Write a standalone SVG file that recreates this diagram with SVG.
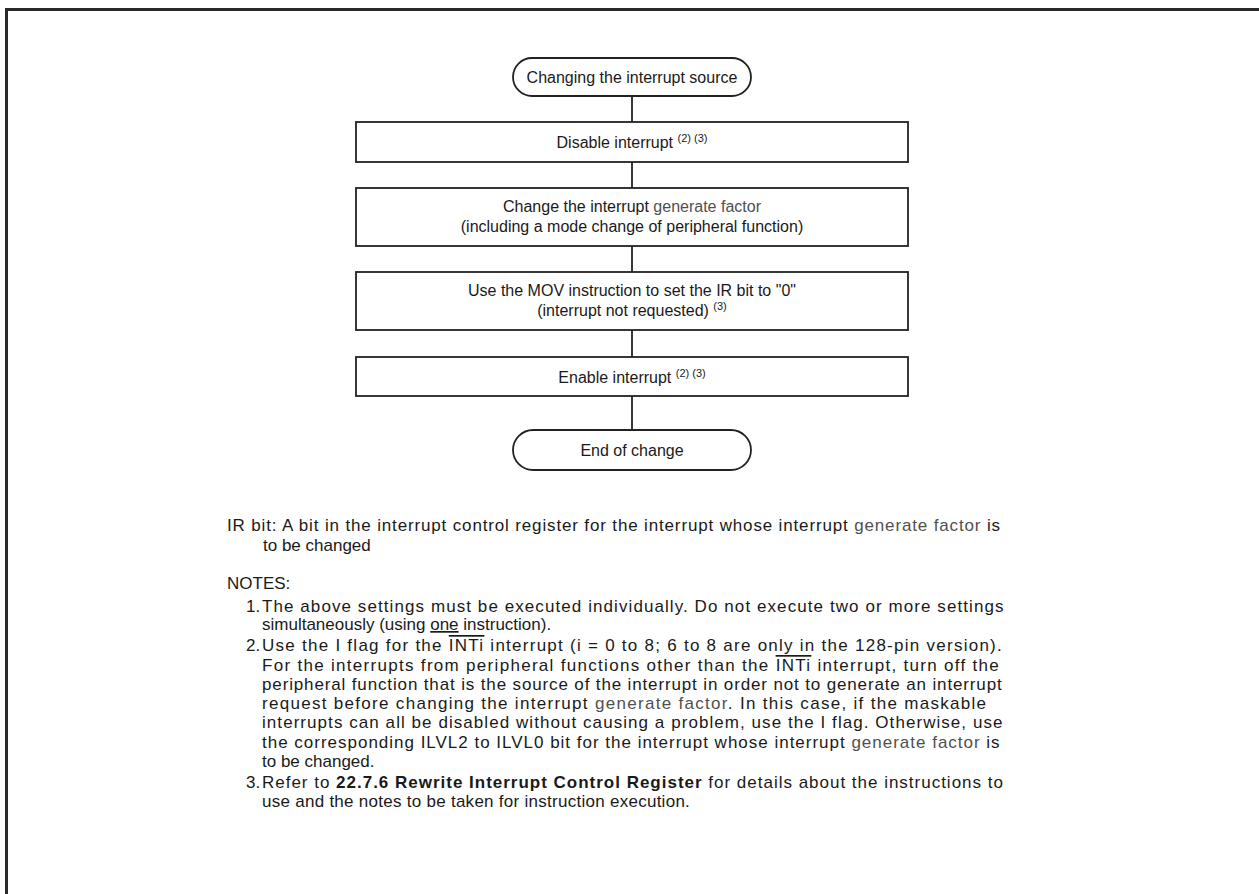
<svg xmlns="http://www.w3.org/2000/svg" width="1259" height="894" viewBox="0 0 1259 894">
<style>
.box{fill:#fff;stroke:#222;stroke-width:1.8}
.ln{stroke:#222;stroke-width:1.8;fill:none}
.t{font-family:"Liberation Sans",Arial,sans-serif;font-size:16px;fill:#1a1a1a}
.n{font-family:"Liberation Sans",Arial,sans-serif;font-size:17px;fill:#1a1a1a}
.c{text-anchor:middle}
.sup{font-size:11px}
.g{fill:#505050}
.ov{text-decoration:overline}
.ul{text-decoration:underline}
.b{font-weight:bold}
</style>
<rect width="1259" height="894" fill="#fff"/>
<path d="M6.5,894 V9.5 H1259" fill="none" stroke="#2a2a2a" stroke-width="3"/>
<g id="connectors">
<line class="ln" x1="632" y1="96" x2="632" y2="122"/>
<line class="ln" x1="632" y1="162" x2="632" y2="188"/>
<line class="ln" x1="632" y1="246" x2="632" y2="272"/>
<line class="ln" x1="632" y1="330" x2="632" y2="357"/>
<line class="ln" x1="632" y1="396" x2="632" y2="430"/>
</g>
<g id="start">
<rect class="box" x="513" y="58" width="238" height="38" rx="19" ry="19"/>
<text class="t c" x="632" y="83">Changing the interrupt source</text>
</g>
<g id="disable">
<rect class="box" x="356" y="122" width="552" height="40"/>
<text class="t c" x="632" y="148">Disable interrupt <tspan class="sup" dy="-6">(2) (3)</tspan></text>
</g>
<g id="change">
<rect class="box" x="356" y="188" width="552" height="58"/>
<text class="t c" x="632" y="212">Change the interrupt <tspan class="g">generate factor</tspan></text>
<text class="t c" x="632" y="232">(including a mode change of peripheral function)</text>
</g>
<g id="mov">
<rect class="box" x="356" y="272" width="552" height="58"/>
<text class="t c" x="632" y="296">Use the MOV instruction to set the IR bit to "0"</text>
<text class="t c" x="632" y="316">(interrupt not requested) <tspan class="sup" dy="-6">(3)</tspan></text>
</g>
<g id="enable">
<rect class="box" x="356" y="357" width="552" height="39"/>
<text class="t c" x="632" y="383">Enable interrupt <tspan class="sup" dy="-6">(2) (3)</tspan></text>
</g>
<g id="end">
<rect class="box" x="513" y="430" width="238" height="40" rx="20" ry="20"/>
<text class="t c" x="632" y="456">End of change</text>
</g>
<g id="notes">
<text class="n" x="227" y="531" style="letter-spacing:0.85px">IR bit: A bit in the interrupt control register for the interrupt whose interrupt <tspan class="g">generate factor</tspan> is</text>
<text class="n" x="263" y="551">to be changed</text>
<text class="n" x="227" y="589">NOTES:</text>
<text class="n" x="246" y="612">1.</text>
<text class="n" x="262" y="612" style="letter-spacing:1.08px">The above settings must be executed individually. Do not execute two or more settings</text>
<text class="n" x="262" y="630">simultaneously (using <tspan class="ul">one</tspan> instruction).</text>
<text class="n" x="246" y="651">2.</text>
<text class="n" x="262" y="651" style="letter-spacing:1.26px">Use the I flag for the <tspan class="ov">INTi</tspan> interrupt (i = 0 to 8; 6 to 8 are only in the 128-pin version).</text>
<text class="n" x="262" y="671" style="letter-spacing:1.3px">For the interrupts from peripheral functions other than the <tspan class="ov">INTi</tspan> interrupt, turn off the</text>
<text class="n" x="262" y="690" style="letter-spacing:0.86px">peripheral function that is the source of the interrupt in order not to generate an interrupt</text>
<text class="n" x="262" y="709" style="letter-spacing:1.3px">request before changing the interrupt <tspan class="g">generate factor</tspan>. In this case, if the maskable</text>
<text class="n" x="262" y="728" style="letter-spacing:1.06px">interrupts can all be disabled without causing a problem, use the I flag. Otherwise, use</text>
<text class="n" x="262" y="748" style="letter-spacing:0.99px">the corresponding ILVL2 to ILVL0 bit for the interrupt whose interrupt <tspan class="g">generate factor</tspan> is</text>
<text class="n" x="262" y="767">to be changed.</text>
<text class="n" x="246" y="788">3.</text>
<text class="n" x="262" y="788" style="letter-spacing:0.99px">Refer to <tspan class="b">22.7.6 Rewrite Interrupt Control Register</tspan> for details about the instructions to</text>
<text class="n" x="262" y="807" style="letter-spacing:0.27px">use and the notes to be taken for instruction execution.</text>
</g>
</svg>
